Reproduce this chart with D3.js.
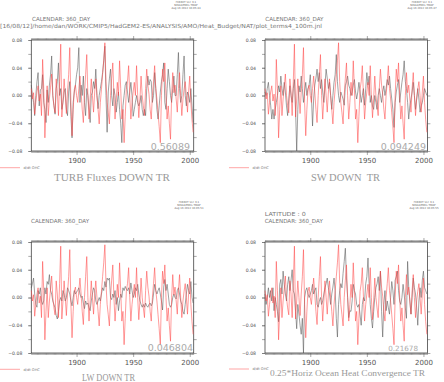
<!DOCTYPE html>
<html>
<head>
<meta charset="utf-8">
<script src="https://cdn.jsdelivr.net/npm/d3@7"></script>
<style>
body { margin: 0; background: #fff; }
svg { display: block; }
text { font-family: "DejaVu Sans", sans-serif; }
.title { font-family: "Liberation Serif", serif; white-space: pre; }
</style>
</head>
<body>
<div id="chart"></div>
<script>
var width = 444, height = 382;
var firstYear = 1860;

// d/dt OHC (red, same in every panel)
var ohcTrend = [
  0.010, -0.005, 0.004, -0.027, -0.010, 0.005, 0.014, -0.008, 0.002, -0.029,
  0.052, 0.010, -0.061, -0.020, 0.014, -0.029, -0.005, 0.012, 0.031, 0.000,
  -0.015, -0.025, 0.024, 0.005, -0.029, 0.020, 0.074, -0.031, -0.005, 0.024,
  0.000, -0.026, 0.005, 0.030, 0.069, -0.010, -0.058, -0.020, 0.009, 0.015,
  0.000, -0.010, 0.010, 0.028, 0.005, -0.020, -0.039, 0.000, 0.030, 0.059,
  0.000, -0.034, -0.005, 0.024, 0.000, -0.024, 0.005, 0.024, 0.000, -0.020,
  -0.041, -0.010, 0.009, 0.030, 0.050, 0.076, 0.020, -0.010, -0.025, -0.041,
  0.000, 0.025, 0.047, 0.000, -0.034, -0.010, 0.019, 0.000, 0.050, 0.010,
  -0.034, -0.020, -0.068, -0.030, 0.009, 0.020, 0.043, 0.000, -0.034, -0.010,
  0.005, 0.019, 0.000, 0.043, 0.000, -0.032, -0.005, 0.028, 0.000, -0.015,
  -0.029, 0.010, 0.038, 0.015, 0.002, -0.020, -0.034, 0.000, 0.020, 0.043,
  0.010, -0.005, -0.025, -0.045, -0.068, 0.000, 0.038, 0.020, 0.047, 0.000,
  -0.034, -0.015, -0.040, -0.063, 0.000, 0.033, 0.004, 0.015, -0.005, -0.024,
  0.010, 0.033, 0.000, -0.029, -0.005, 0.009, 0.020, 0.000, -0.024, 0.005,
  0.028, -0.010, -0.035, -0.053
];

var turbFlux = [
  0.015, 0.000, -0.010, -0.029, 0.000, 0.020, 0.033, -0.015, 0.008, 0.010,
  0.030, -0.010, -0.020, -0.039, 0.008, -0.010, 0.015, 0.030, 0.057, 0.000,
  -0.015, -0.027, 0.010, 0.020, 0.047, 0.000, 0.010, -0.020, -0.010, 0.005,
  0.010, -0.020, -0.029, 0.005, 0.020, -0.030, -0.061, -0.010, 0.005, 0.015,
  0.030, 0.040, 0.069, -0.010, 0.015, 0.000, 0.028, -0.010, -0.029, 0.010,
  0.000, -0.020, -0.039, 0.000, 0.005, 0.020, 0.010, 0.038, 0.000, -0.019,
  0.000, 0.010, 0.020, 0.033, 0.050, 0.071, 0.000, -0.053, 0.005, 0.024,
  0.038, 0.000, -0.015, 0.010, 0.000, -0.024, -0.010, 0.005, -0.020, -0.040,
  -0.068, -0.015, 0.000, 0.015, 0.020, 0.005, -0.010, 0.005, 0.019, 0.000,
  -0.030, -0.020, -0.010, 0.000, -0.010, -0.015, -0.010, 0.000, -0.020, -0.029,
  -0.020, -0.029, 0.010, 0.028, 0.015, 0.023, 0.020, -0.010, 0.000, 0.033,
  0.010, -0.020, -0.034, -0.015, 0.005, 0.020, 0.030, 0.047, -0.010, -0.020,
  0.010, 0.038, 0.020, 0.000, -0.010, 0.010, 0.028, 0.000, 0.000, 0.030,
  0.062, 0.010, -0.010, 0.000, 0.030, 0.057, 0.000, -0.015, 0.005, 0.000,
  -0.010, 0.010, -0.015, -0.039
];

var swDown = [
  0.005, 0.000, 0.010, 0.019, 0.000, -0.014, -0.034, -0.020, -0.034, -0.020,
  -0.010, 0.000, 0.014, 0.005, 0.028, 0.010, 0.000, 0.019, 0.005, -0.015,
  -0.029, -0.005, 0.014, 0.000, -0.010, 0.010, 0.023, -0.020, -0.080, -0.020,
  0.014, 0.005, 0.028, 0.010, -0.010, 0.005, 0.019, 0.000, 0.010, 0.015,
  0.030, 0.000, -0.044, -0.005, 0.015, 0.025, 0.038, 0.020, 0.033, 0.010,
  0.023, 0.005, -0.010, 0.015, 0.038, 0.025, 0.010, 0.019, 0.000, -0.020,
  0.000, 0.019, 0.030, 0.059, 0.020, 0.000, -0.010, 0.005, 0.000, -0.005,
  -0.014, 0.014, 0.020, 0.028, 0.015, 0.010, 0.000, 0.005, 0.015, 0.023,
  0.005, -0.005, 0.005, 0.019, 0.005, -0.010, 0.000, 0.010, -0.014, 0.010,
  0.033, 0.015, 0.028, -0.010, 0.000, -0.015, -0.020, 0.000, -0.010, -0.020,
  0.000, 0.010, 0.000, -0.010, 0.005, 0.014, 0.000, 0.010, 0.023, 0.015,
  0.028, 0.010, -0.005, -0.020, -0.046, -0.010, 0.005, 0.015, 0.023, -0.010,
  0.005, 0.019, 0.030, 0.050, 0.020, 0.010, -0.010, -0.034, -0.015, -0.005,
  0.005, 0.019, 0.000, -0.020, -0.005, 0.010, -0.005, -0.024, -0.015, -0.010,
  0.000, 0.010, 0.005, 0.000
];

var lwDown = [
  0.014, 0.020, 0.028, 0.005, -0.010, -0.014, 0.010, 0.005, 0.014, -0.005,
  -0.010, -0.005, 0.014, 0.005, 0.023, 0.019, 0.033, 0.010, 0.005, -0.005,
  -0.010, -0.015, -0.026, -0.031, -0.020, -0.005, 0.000, -0.005, 0.010, 0.005,
  -0.005, 0.000, 0.014, 0.010, 0.005, -0.005, -0.012, 0.000, 0.010, 0.005,
  0.008, 0.010, 0.014, 0.005, 0.000, 0.002, -0.008, -0.016, -0.005, -0.010,
  -0.008, -0.015, -0.019, -0.005, 0.005, 0.014, 0.010, -0.005, -0.010, -0.005,
  0.000, -0.005, 0.005, 0.014, 0.010, 0.023, 0.015, 0.028, 0.025, 0.028,
  0.000, -0.003, 0.005, 0.000, 0.010, -0.010, 0.000, -0.019, -0.005, 0.005,
  0.000, 0.014, 0.010, 0.016, 0.012, 0.010, 0.014, 0.005, 0.021, 0.010,
  0.000, 0.005, 0.014, 0.010, 0.019, 0.005, -0.005, -0.010, -0.014, -0.010,
  -0.014, -0.008, -0.012, -0.014, -0.010, -0.008, -0.012, -0.008, 0.005, 0.019,
  0.010, 0.005, 0.010, 0.014, 0.005, -0.005, -0.018, 0.015, 0.026, 0.010,
  0.019, 0.005, -0.010, -0.014, -0.010, 0.000, 0.005, 0.000, -0.002, 0.010,
  0.014, 0.005, -0.005, -0.010, -0.020, -0.024, -0.010, 0.005, 0.019, 0.010,
  0.005, 0.023, 0.000, -0.008
];

var horizConv = [
  0.005, -0.010, 0.000, 0.014, 0.000, 0.010, -0.005, 0.014, -0.019, 0.000,
  -0.010, -0.020, -0.035, 0.019, 0.026, 0.005, 0.038, 0.019, 0.005, -0.005,
  0.019, 0.030, 0.010, 0.025, 0.040, 0.010, 0.005, -0.020, -0.045, -0.010,
  -0.024, -0.040, -0.053, -0.030, -0.080, 0.000, 0.010, 0.014, 0.005, 0.000,
  0.005, 0.010, 0.019, 0.005, 0.010, 0.014, -0.010, -0.014, -0.005, 0.000,
  -0.010, -0.005, 0.005, 0.014, 0.020, 0.028, 0.014, 0.005, -0.010, 0.005,
  0.015, 0.028, 0.010, -0.030, -0.057, -0.010, 0.010, 0.020, 0.014, 0.035,
  0.052, 0.071, 0.028, 0.000, -0.029, -0.019, -0.020, -0.005, 0.019, 0.010,
  0.005, -0.010, -0.014, -0.010, -0.025, -0.040, -0.010, 0.000, -0.005, 0.020,
  0.030, 0.057, 0.020, -0.010, -0.030, -0.044, -0.020, 0.000, 0.014, 0.020,
  0.030, 0.010, 0.038, -0.020, -0.057, -0.010, 0.010, -0.019, -0.005, -0.015,
  -0.024, 0.000, 0.023, 0.010, -0.010, 0.025, 0.030, 0.038, 0.010, -0.005,
  -0.010, 0.000, 0.019, 0.005, -0.015, -0.030, 0.052, 0.014, -0.005, -0.024,
  0.000, 0.028, 0.014, 0.005, -0.015, -0.040, -0.005, 0.014, 0.000, 0.025,
  0.038, 0.014, 0.010, 0.005
];

var panelSeries = [turbFlux, swDown, lwDown, horizConv];
var corrLabels = ["0.56089", "0.094249", "0.046804", "0.21678"];
var titles = ["TURB Fluxes DOWN TR", "SW DOWN  TR", "LW DOWN TR", "0.25*Horiz Ocean Heat Convergence TR"];
var headers = [["CALENDAR: 360_DAY"], ["CALENDAR: 360_DAY"], ["CALENDAR: 360_DAY"], ["LATITUDE : 0", "CALENDAR: 360_DAY"]];
var stampTimes = ["16:05:44", "16:05:47", "16:05:51", "16:05:55"];
var yTickLabels = [0.08, 0.04, 0.00, -0.04, -0.08];
var yTickMinor = [-0.08, -0.06, -0.04, -0.02, 0.00, 0.02, 0.04, 0.06, 0.08];
var xTickLabels = [1900, 1950, 2000];
var legendLabel = "d/dt OHC";
var scriptPath = "[16/08/12]/home/dan/WORK/CMIP5/HadGEM2-ES/ANALYSIS/AMO/Heat_Budget/NAT/plot_terms4_100m.jnl";

// where things sit on the page
var plotW = 162.4, plotH = 111;
var layout = [
  { left: 31.3, top: 40, headX: 32, headY: [20.7], stampX: 186, stampY: 2.5, corrX: 190, corrY: 150, corrSize: 9.5,
    titleX: 112, titleY: 181, titleSize: 11, titleLen: 116, legX: 0, legY: 167.7 },
  { left: 265, top: 40, headX: 265.3, headY: [20.7], stampX: 422, stampY: 2.5, corrX: 426, corrY: 150, corrSize: 9.5,
    titleX: 345.5, titleY: 181, titleSize: 10.5, titleLen: 69, legX: 229, legY: 167.7 },
  { left: 31.3, top: 242, headX: 31, headY: [222.5], stampX: 189, stampY: 202.5, corrX: 193, corrY: 351, corrSize: 9.5,
    titleX: 108.5, titleY: 381, titleSize: 10, titleLen: 53, legX: 0, legY: 369.3 },
  { left: 265, top: 242, headX: 264.7, headY: [216.3, 222.5], stampX: 424, stampY: 203, corrX: 418, corrY: 351, corrSize: 7.2,
    titleX: 347.5, titleY: 376, titleSize: 9, titleLen: 155, legX: 229, legY: 369 }
];

var svg = d3.select("#chart").append("svg").attr("width", width).attr("height", height);

svg.append("text")
  .attr("x", 0).attr("y", 28)
  .attr("font-size", 5.6).attr("fill", "#777")
  .attr("textLength", 322).attr("lengthAdjust", "spacingAndGlyphs")
  .text(scriptPath);

function styleAxis(sel) {
  sel.select(".domain").remove();
  sel.selectAll(".tick line").attr("stroke", "#555").attr("stroke-width", 0.5);
  sel.selectAll(".tick text").attr("fill", "#555").style("font-family", "DejaVu Sans");
}

function drawPanel(k) {
  var L = layout[k];
  var g = svg.append("g");
  var x = d3.scaleLinear().domain([1860, 2003.5]).range([L.left, L.left + plotW]);
  var y = d3.scaleLinear().domain([-0.08, 0.08]).range([L.top + plotH, L.top]);
  var years = ohcTrend.map(function (d, i) { return firstYear + i; });

  // bottom axis
  g.append("g").attr("transform", "translate(0," + y(-0.08) + ")")
    .call(d3.axisBottom(x).tickValues(years).tickSize(2).tickFormat(""))
    .call(styleAxis);
  g.append("g").attr("transform", "translate(0," + y(-0.08) + ")")
    .call(d3.axisBottom(x).tickValues(xTickLabels).tickSize(4).tickPadding(3).tickFormat(d3.format("d")))
    .call(styleAxis)
    .selectAll("text").attr("font-size", 7);
  // top axis
  g.append("g").attr("transform", "translate(0," + y(0.08) + ")")
    .call(d3.axisTop(x).tickValues(years).tickSize(2).tickFormat(""))
    .call(styleAxis);
  g.append("g").attr("transform", "translate(0," + y(0.08) + ")")
    .call(d3.axisTop(x).tickValues(xTickLabels).tickSize(4).tickFormat(""))
    .call(styleAxis);
  // left / right
  g.append("g").attr("transform", "translate(" + x.range()[0] + ",0)")
    .call(d3.axisLeft(y).tickValues(yTickMinor).tickSize(3).tickFormat(""))
    .call(styleAxis);
  g.append("g").attr("transform", "translate(" + x.range()[0] + ",0)")
    .call(d3.axisLeft(y).tickValues(yTickLabels).tickSize(3).tickPadding(6).tickFormat(d3.format(".2f")))
    .call(styleAxis)
    .selectAll("text").attr("font-size", 4.6);
  g.append("g").attr("transform", "translate(" + x.range()[1] + ",0)")
    .call(d3.axisRight(y).tickValues(yTickMinor).tickSize(3).tickFormat(""))
    .call(styleAxis);

  g.append("rect")
    .attr("x", x.range()[0]).attr("y", y(0.08))
    .attr("width", plotW).attr("height", y(-0.08) - y(0.08))
    .attr("fill", "none").attr("stroke", "#444").attr("stroke-width", 0.8);

  var line = d3.line()
    .x(function (d, i) { return x(firstYear + i); })
    .y(function (d) { return y(d); });

  g.append("path").attr("d", line(panelSeries[k]))
    .attr("fill", "none").attr("stroke", "#555").attr("stroke-width", 0.55);
  g.append("path").attr("d", line(ohcTrend))
    .attr("fill", "none").attr("stroke", "#ff4848").attr("stroke-width", 0.55);

  // correlation value
  g.append("text")
    .attr("x", L.corrX).attr("y", L.corrY)
    .attr("text-anchor", "end")
    .attr("font-size", L.corrSize).attr("fill", "#aaa")
    .text(corrLabels[k]);

  // headers
  headers[k].forEach(function (h, j) {
    g.append("text")
      .attr("x", L.headX).attr("y", L.headY[j])
      .attr("font-size", 5.6).attr("fill", "#777")
      .attr("textLength", h.length * 3.42).attr("lengthAdjust", "spacingAndGlyphs")
      .text(h);
  });

  // ferret stamp
  var stamp = ["FERRET Ver. 6.1", "NOAA/PMEL TMAP", "Aug 16 2012 " + stampTimes[k]];
  stamp.forEach(function (s, j) {
    g.append("text")
      .attr("x", L.stampX).attr("y", L.stampY + j * 3)
      .attr("text-anchor", "middle")
      .attr("font-size", 2.6).attr("fill", "#666")
      .text(s);
  });

  // legend
  g.append("line")
    .attr("x1", L.legX).attr("x2", L.legX + 20)
    .attr("y1", L.legY).attr("y2", L.legY)
    .attr("stroke", "#ff6a6a").attr("stroke-width", 0.6);
  g.append("text")
    .attr("x", L.legX + 23.5).attr("y", L.legY + 1.2)
    .attr("font-size", 3.6).attr("fill", "#777")
    .text(legendLabel);

  // title
  g.append("text")
    .attr("class", "title")
    .attr("x", L.titleX).attr("y", L.titleY)
    .attr("text-anchor", "middle")
    .attr("font-size", L.titleSize).attr("fill", "#999")
    .attr("textLength", L.titleLen).attr("lengthAdjust", "spacingAndGlyphs")
    .text(titles[k]);
}

for (var k = 0; k < 4; k++) drawPanel(k);
</script>
</body>
</html>
